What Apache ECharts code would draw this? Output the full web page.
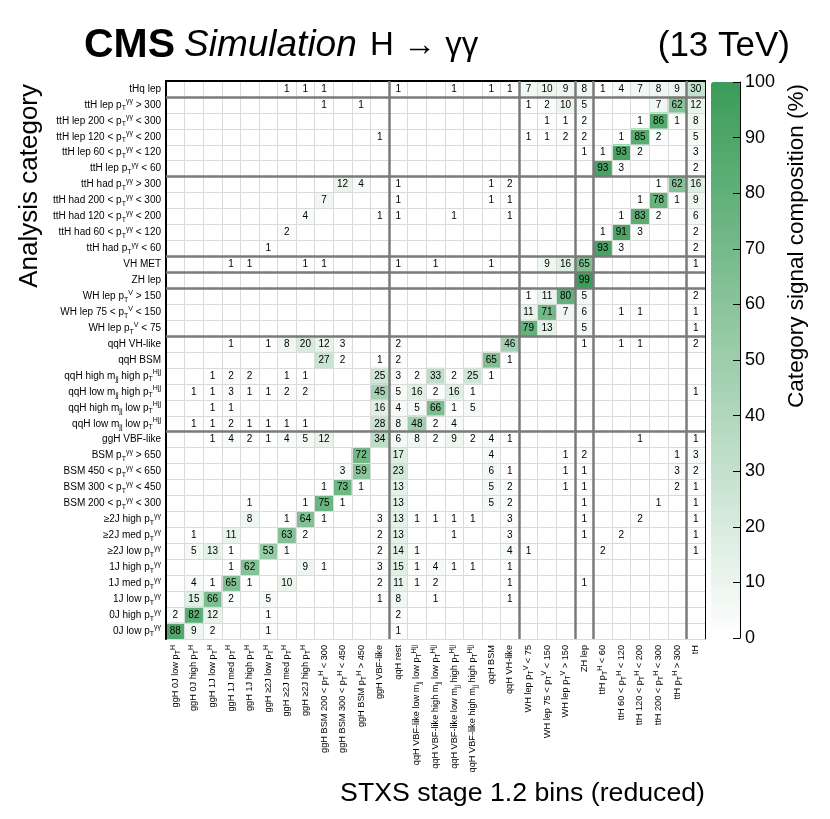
<!DOCTYPE html>
<html>
<head>
<meta charset="utf-8">
<script src="https://cdn.jsdelivr.net/npm/echarts@6/dist/echarts.min.js"></script>
<style>
  body { margin: 0; background: #fff; }
  #container { width: 830px; height: 819px; }
</style>
</head>
<body>
<div id="container"></div>
<script>
// generator bins (x axis), grouped by production mode
var ggHBins = ['ggH 0J low p{sb|T}{sp|H}', 'ggH 0J high p{sb|T}{sp|H}', 'ggH 1J low p{sb|T}{sp|H}', 'ggH 1J med p{sb|T}{sp|H}',
  'ggH 1J high p{sb|T}{sp|H}', 'ggH ≥2J low p{sb|T}{sp|H}', 'ggH ≥2J med p{sb|T}{sp|H}', 'ggH ≥2J high p{sb|T}{sp|H}',
  'ggH BSM 200 < p{sb|T}{sp|H} < 300', 'ggH BSM 300 < p{sb|T}{sp|H} < 450', 'ggH BSM p{sb|T}{sp|H} > 450', 'ggH VBF-like'];
var qqHBins = ['qqH rest', 'qqH VBF-like low m{sb|jj} low p{sb|T}{sp|Hjj}', 'qqH VBF-like high m{sb|jj} low p{sb|T}{sp|Hjj}',
  'qqH VBF-like low m{sb|jj} high p{sb|T}{sp|Hjj}', 'qqH VBF-like high m{sb|jj} high p{sb|T}{sp|Hjj}', 'qqH BSM', 'qqH VH-like'];
var whBins = ['WH lep p{sb|T}{sp|V} < 75', 'WH lep 75 < p{sb|T}{sp|V} < 150', 'WH lep p{sb|T}{sp|V} > 150'];
var zhBins = ['ZH lep'];
var tthBins = ['ttH p{sb|T}{sp|H} < 60', 'ttH 60 < p{sb|T}{sp|H} < 120', 'ttH 120 < p{sb|T}{sp|H} < 200',
  'ttH 200 < p{sb|T}{sp|H} < 300', 'ttH p{sb|T}{sp|H} > 300'];
var thBins = ['tH'];

// analysis categories (y axis), top to bottom
var catTHq = ['tHq lep'];
var catTTHLep = ['ttH lep p{sb|T}{sp|γγ} > 300', 'ttH lep 200 < p{sb|T}{sp|γγ} < 300', 'ttH lep 120 < p{sb|T}{sp|γγ} < 200',
  'ttH lep 60 < p{sb|T}{sp|γγ} < 120', 'ttH lep p{sb|T}{sp|γγ} < 60'];
var catTTHHad = ['ttH had p{sb|T}{sp|γγ} > 300', 'ttH had 200 < p{sb|T}{sp|γγ} < 300', 'ttH had 120 < p{sb|T}{sp|γγ} < 200',
  'ttH had 60 < p{sb|T}{sp|γγ} < 120', 'ttH had p{sb|T}{sp|γγ} < 60'];
var catVHMet = ['VH MET'];
var catZH = ['ZH lep'];
var catWH = ['WH lep p{sb|T}{sp|V} > 150', 'WH lep 75 < p{sb|T}{sp|V} < 150', 'WH lep p{sb|T}{sp|V} < 75'];
var catQqH = ['qqH VH-like', 'qqH BSM', 'qqH high m{sb|jj} high p{sb|T}{sp|Hjj}', 'qqH low m{sb|jj} high p{sb|T}{sp|Hjj}',
  'qqH high m{sb|jj} low p{sb|T}{sp|Hjj}', 'qqH low m{sb|jj} low p{sb|T}{sp|Hjj}'];
var catGgH = ['ggH VBF-like', 'BSM p{sb|T}{sp|γγ} > 650', 'BSM 450 < p{sb|T}{sp|γγ} < 650', 'BSM 300 < p{sb|T}{sp|γγ} < 450',
  'BSM 200 < p{sb|T}{sp|γγ} < 300', '≥2J high p{sb|T}{sp|γγ}', '≥2J med p{sb|T}{sp|γγ}', '≥2J low p{sb|T}{sp|γγ}',
  '1J high p{sb|T}{sp|γγ}', '1J med p{sb|T}{sp|γγ}', '1J low p{sb|T}{sp|γγ}', '0J high p{sb|T}{sp|γγ}', '0J low p{sb|T}{sp|γγ}'];

// signal composition (%) per category, columns = bins above (0 = empty)
//           ggH                          | qqH                | WH      |ZH| ttH          | tH
var valTHq = [
  [0,0,0,0,0,0,1,1,1,0,0,0,  1,0,0,1,0,1,1,  7,10,9,  8,  1,4,7,8,9,  30]
];
var valTTHLep = [
  [0,0,0,0,0,0,0,0,1,0,1,0,  0,0,0,0,0,0,0,  1,2,10,  5,  0,0,0,7,62,  12],
  [0,0,0,0,0,0,0,0,0,0,0,0,  0,0,0,0,0,0,0,  0,1,1,   2,  0,0,1,86,1,  8],
  [0,0,0,0,0,0,0,0,0,0,0,1,  0,0,0,0,0,0,0,  1,1,2,   2,  0,1,85,2,0,  5],
  [0,0,0,0,0,0,0,0,0,0,0,0,  0,0,0,0,0,0,0,  0,0,0,   1,  1,93,2,0,0,  3],
  [0,0,0,0,0,0,0,0,0,0,0,0,  0,0,0,0,0,0,0,  0,0,0,   0,  93,3,0,0,0,  2]
];
var valTTHHad = [
  [0,0,0,0,0,0,0,0,0,12,4,0, 1,0,0,0,0,1,2,  0,0,0,   0,  0,0,0,1,62,  16],
  [0,0,0,0,0,0,0,0,7,0,0,0,  1,0,0,0,0,1,1,  0,0,0,   0,  0,0,1,78,1,  9],
  [0,0,0,0,0,0,0,4,0,0,0,1,  1,0,0,1,0,0,1,  0,0,0,   0,  0,1,83,2,0,  6],
  [0,0,0,0,0,0,2,0,0,0,0,0,  0,0,0,0,0,0,0,  0,0,0,   0,  1,91,3,0,0,  2],
  [0,0,0,0,0,1,0,0,0,0,0,0,  0,0,0,0,0,0,0,  0,0,0,   0,  93,3,0,0,0,  2]
];
var valVHMet = [
  [0,0,0,1,1,0,0,1,1,0,0,0,  1,0,1,0,0,1,0,  0,9,16,  65, 0,0,0,0,0,  1]
];
var valZH = [
  [0,0,0,0,0,0,0,0,0,0,0,0,  0,0,0,0,0,0,0,  0,0,0,   99, 0,0,0,0,0,  0]
];
var valWH = [
  [0,0,0,0,0,0,0,0,0,0,0,0,  0,0,0,0,0,0,0,  1,11,80, 5,  0,0,0,0,0,  2],
  [0,0,0,0,0,0,0,0,0,0,0,0,  0,0,0,0,0,0,0,  11,71,7, 6,  0,1,1,0,0,  1],
  [0,0,0,0,0,0,0,0,0,0,0,0,  0,0,0,0,0,0,0,  79,13,0, 5,  0,0,0,0,0,  1]
];
var valQqH = [
  [0,0,0,1,0,1,8,20,12,3,0,0, 2,0,0,0,0,0,46, 0,0,0,  1,  0,1,1,0,0,  2],
  [0,0,0,0,0,0,0,0,27,2,0,1,  2,0,0,0,0,65,1, 0,0,0,  0,  0,0,0,0,0,  0],
  [0,0,1,2,2,0,1,1,0,0,0,25,  3,2,33,2,25,1,0, 0,0,0, 0,  0,0,0,0,0,  0],
  [0,1,1,3,1,1,2,2,0,0,0,45,  5,16,2,16,1,0,0, 0,0,0, 0,  0,0,0,0,0,  1],
  [0,0,1,1,0,0,0,0,0,0,0,16,  4,5,66,1,5,0,0,  0,0,0,  0,  0,0,0,0,0,  0],
  [0,1,1,2,1,1,1,1,0,0,0,28,  8,48,2,4,0,0,0,  0,0,0,  0,  0,0,0,0,0,  0]
];
var valGgH = [
  [0,0,1,4,2,1,4,5,12,0,0,34, 6,8,2,9,2,4,1,  0,0,0,   0,  0,0,1,0,0,  1],
  [0,0,0,0,0,0,0,0,0,0,72,0,  17,0,0,0,0,4,0, 0,0,1,   2,  0,0,0,0,1,  3],
  [0,0,0,0,0,0,0,0,0,3,59,0,  23,0,0,0,0,6,1, 0,0,1,   1,  0,0,0,0,3,  2],
  [0,0,0,0,0,0,0,0,1,73,1,0,  13,0,0,0,0,5,2, 0,0,1,   1,  0,0,0,0,2,  1],
  [0,0,0,0,1,0,0,1,75,1,0,0,  13,0,0,0,0,5,2, 0,0,0,   1,  0,0,0,1,0,  1],
  [0,0,0,0,8,0,1,64,1,0,0,3,  13,1,1,1,1,0,3, 0,0,0,   1,  0,0,2,0,0,  1],
  [0,1,0,11,0,0,63,2,0,0,0,2, 13,0,0,1,0,0,3, 0,0,0,   1,  0,2,0,0,0,  1],
  [0,5,13,1,0,53,1,0,0,0,0,2, 14,1,0,0,0,0,4, 1,0,0,   0,  2,0,0,0,0,  1],
  [0,0,0,1,62,0,0,9,1,0,0,3,  15,1,4,1,1,0,1, 0,0,0,   0,  0,0,0,0,0,  0],
  [0,4,1,65,1,0,10,0,0,0,0,2, 11,1,2,0,0,0,1, 0,0,0,   1,  0,0,0,0,0,  0],
  [0,15,66,2,0,5,0,0,0,0,0,1, 8,0,1,0,0,0,1,  0,0,0,   0,  0,0,0,0,0,  0],
  [2,82,12,0,0,1,0,0,0,0,0,0, 2,0,0,0,0,0,0,  0,0,0,   0,  0,0,0,0,0,  0],
  [88,9,2,0,0,1,0,0,0,0,0,0,  1,0,0,0,0,0,0,  0,0,0,   0,  0,0,0,0,0,  0]
];
var colorTicks = [0, 100, 10]; // min, max, step of the colour scale

var binGroups = [ggHBins, qqHBins, whBins, zhBins, tthBins, thBins];
var catGroups = [catTHq, catTTHLep, catTTHHad, catVHMet, catZH, catWH, catQqH, catGgH];
var valGroups = [valTHq, valTTHLep, valTTHHad, valVHMet, valZH, valWH, valQqH, valGgH];

var xLabels = [].concat.apply([], binGroups);
var yLabels = [].concat.apply([], catGroups);
var rows = [].concat.apply([], valGroups);

var cells = [];
for (var r = 0; r < rows.length; r++) {
  for (var c = 0; c < rows[r].length; c++) {
    if (rows[r][c] > 0) cells.push([c, r, rows[r][c]]);
  }
}

// group boundaries for the heavy separator lines
function bounds(groups) {
  var out = [], acc = 0;
  for (var i = 0; i < groups.length - 1; i++) { acc += groups[i].length; out.push(acc); }
  return out;
}
var sepLines = bounds(binGroups).map(function (v) { return { xAxis: v }; })
  .concat(bounds(catGroups).map(function (v) { return { yAxis: v }; }));

var FONT = '"Liberation Sans", Arial, sans-serif';
var richY = {
  sb: { fontSize: 7, verticalAlign: 'bottom', fontFamily: FONT, color: '#000' },
  sp: { fontSize: 7, verticalAlign: 'top', fontFamily: FONT, color: '#000' }
};

var dom = document.getElementById('container');
var myChart = echarts.init(dom, null, { renderer: 'canvas' });

var GL = 166, GT = 81, GW = 539, GH = 558;

var option = {
  animation: false,
  backgroundColor: '#fff',
  textStyle: { fontFamily: FONT },
  grid: [
    { left: GL, top: GT, width: GW, height: GH, show: false },
    { left: 711, top: GT + 1, width: 29, height: GH - 2, show: false }
  ],
  xAxis: [
    {
      type: 'category', gridIndex: 0, data: xLabels, position: 'bottom', z: 3,
      axisLine: { lineStyle: { color: '#000', width: 2 } },
      axisTick: { show: false },
      axisLabel: { interval: 0, rotate: 90, fontSize: 9.2, color: '#000', margin: 6, lineHeight: 12, rich: richY },
      splitLine: { show: true, interval: 0, lineStyle: { color: '#dadada', width: 1 } }
    },
    {
      type: 'value', gridIndex: 0, min: 0, max: xLabels.length, position: 'top', z: 3,
      axisLine: { show: true, onZero: false, lineStyle: { color: '#000', width: 1 } },
      axisTick: { show: false }, axisLabel: { show: false }, splitLine: { show: false }
    },
    {
      type: 'category', gridIndex: 1, data: [''], show: false
    }
  ],
  yAxis: [
    {
      type: 'category', gridIndex: 0, data: yLabels, inverse: true, z: 3,
      axisLine: { lineStyle: { color: '#000', width: 2 } },
      axisTick: { show: false },
      axisLabel: { interval: 0, fontSize: 10, color: '#000', margin: 5, lineHeight: 14, rich: richY },
      splitLine: { show: true, interval: 0, lineStyle: { color: '#dadada', width: 1 } }
    },
    {
      type: 'value', gridIndex: 0, min: 0, max: yLabels.length, inverse: true, position: 'right', z: 3,
      axisLine: { show: true, onZero: false, lineStyle: { color: '#000', width: 1 } },
      axisTick: { show: false }, axisLabel: { show: false }, splitLine: { show: false }
    },
    {
      type: 'value', gridIndex: 1, min: colorTicks[0], max: colorTicks[1], interval: colorTicks[2], position: 'right', z: 10,
      axisLine: { show: true, onZero: false, lineStyle: { color: '#000', width: 1 } },
      axisTick: { show: true, inside: true, length: 7, lineStyle: { color: '#000' } },
      axisLabel: { fontSize: 18, color: '#000', margin: 5 },
      splitLine: { show: false }
    }
  ],
  visualMap: {
    type: 'continuous', seriesIndex: 0, dimension: 2,
    min: colorTicks[0], max: colorTicks[1],
    left: 711, top: GT + 1, itemWidth: 29, itemHeight: GH - 2, padding: 0,
    calculable: false, hoverLink: false,
    inRange: { color: ['#ffffff', '#3a9c58'] }
  },
  graphic: [
    { type: 'text', style: { text: 'CMS', x: 84, y: 46, verticalAlign: 'middle', font: 'bold 41px ' + FONT, fill: '#000' } },
    { type: 'text', style: { text: 'Simulation', x: 184, y: 46, verticalAlign: 'middle', font: 'italic 37px ' + FONT, fill: '#000' } },
    { type: 'text', style: { text: 'H → γγ', x: 370, y: 46, verticalAlign: 'middle', font: '33px ' + FONT, fill: '#000' } },
    { type: 'text', style: { text: '(13 TeV)', x: 790, y: 46, align: 'right', verticalAlign: 'middle', font: '35px ' + FONT, fill: '#000' } },
    { type: 'text', rotation: Math.PI / 2, x: 30, y: 84,
      style: { text: 'Analysis category', align: 'right', verticalAlign: 'middle', font: '26px ' + FONT, fill: '#000' } },
    { type: 'text', style: { text: 'STXS stage 1.2 bins (reduced)', x: 705, y: 794, align: 'right', verticalAlign: 'middle', font: '26.7px ' + FONT, fill: '#000' } },
    { type: 'text', rotation: Math.PI / 2, x: 797, y: 84,
      style: { text: 'Category signal composition (%)', align: 'right', verticalAlign: 'middle', font: '22.5px ' + FONT, fill: '#000' } }
  ],
  series: [
    {
      type: 'heatmap', xAxisIndex: 0, yAxisIndex: 0, data: cells,
      label: {
        show: true, fontSize: 10, color: '#000', fontFamily: FONT,
        formatter: function (p) { return p.value[2]; }
      },
      itemStyle: { borderWidth: 0 }
    },
    {
      type: 'line', xAxisIndex: 1, yAxisIndex: 1, data: [], z: 5, silent: true,
      markLine: {
        silent: true, symbol: ['none', 'none'], label: { show: false },
        lineStyle: { type: 'solid', color: '#7a7a7a', width: 2.5 },
        data: sepLines
      }
    },
    { type: 'line', xAxisIndex: 2, yAxisIndex: 2, data: [] }
  ]
};
myChart.setOption(option);
</script>
</body>
</html>
